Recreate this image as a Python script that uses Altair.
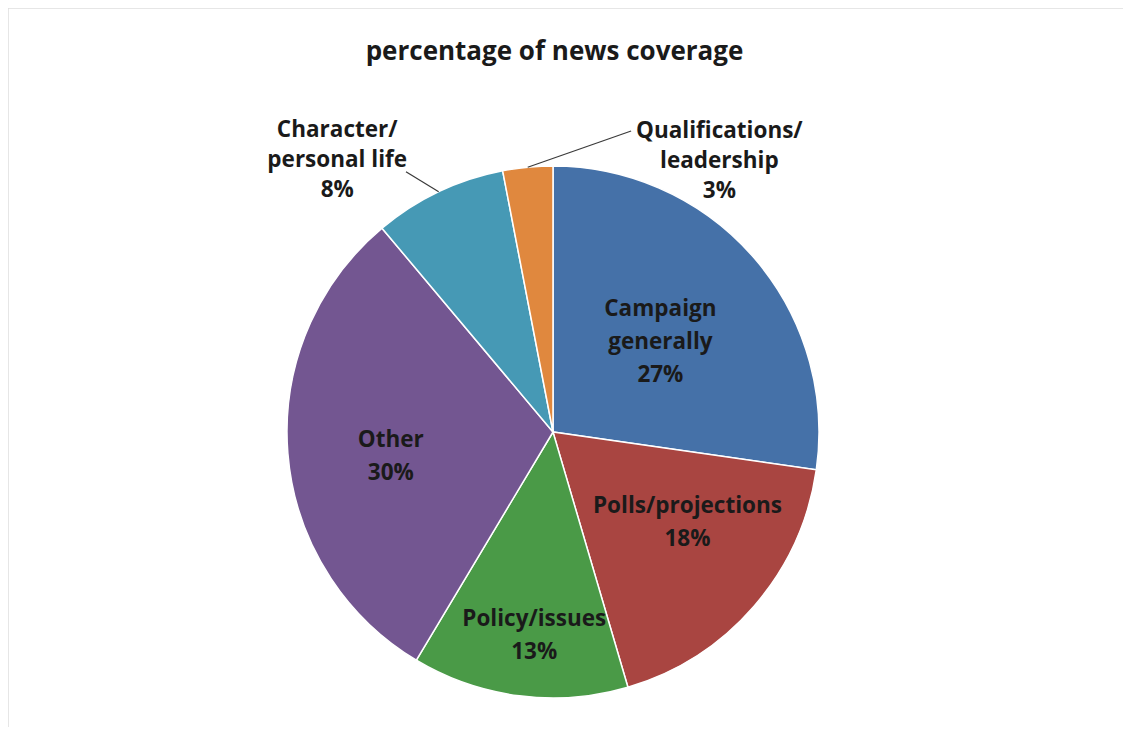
import altair as alt
import pandas as pd

# ---- data ----
categories = ["Campaign generally", "Polls/projections", "Policy/issues",
              "Other", "Character/personal life", "Qualifications/leadership"]
shares = [27, 18, 13, 30, 8, 3]
label_text = ["Campaign\ngenerally\n27%", "Polls/projections\n18%", "Policy/issues\n13%",
              "Other\n30%", "Character/\npersonal life\n8%", "Qualifications/\nleadership\n3%"]
colors = ["#4571A8", "#A94541", "#4A9A47", "#735691", "#4699B5", "#E0883E"]

# ---- label layout (Excel "best fit" placement): radius and turn from slice middle ----
label_radius = [140, 162, 204, 164, 347, 318]
label_turn = [1, -7, -2, -4, -13, 37]
has_leader = [False, False, False, False, True, True]
leader_radius = [0, 0, 0, 0, 299, 311]
leader_turn = [0, 0, 0, 0, -4, 20]

W, H = 1115, 719
CX, CY = 545, 424
R = 266
FONT = "Open Sans"
FS = 22.5
LH_IN, LH_OUT = 33, 30

df = pd.DataFrame({
    "category": categories,
    "share": shares,
    "label": label_text,
    "idx": list(range(len(categories))),
    "lr": label_radius,
    "lt": label_turn,
    "leader": has_leader,
    "ldr": leader_radius,
    "ldt": leader_turn,
})

base = alt.Chart(df).transform_joinaggregate(
    total="sum(share)"
).transform_window(
    cum="sum(share)", sort=[alt.SortField("idx")], frame=[None, 0]
).transform_calculate(
    mid="(datum.cum - datum.share / 2) / datum.total * 2 * PI",
    nlines="split(datum.label, '\\n').length",
    lh=f"datum.leader ? {LH_OUT} : {LH_IN}",
).transform_calculate(
    lx=f"{CX} + datum.lr * sin(datum.mid + datum.lt * PI / 180)",
    ly=f"{CY} - datum.lr * cos(datum.mid + datum.lt * PI / 180) - (datum.nlines - 1) * datum.lh / 2",
    ax=f"{CX} + {R} * sin(datum.mid)",
    ay=f"{CY} - {R} * cos(datum.mid)",
    bx=f"{CX} + datum.ldr * sin(datum.mid + datum.ldt * PI / 180)",
    by=f"{CY} - datum.ldr * cos(datum.mid + datum.ldt * PI / 180)",
)

arcs = alt.Chart(df).mark_arc(outerRadius=R, stroke="white", strokeWidth=1.5).encode(
    theta=alt.Theta("share:Q", stack=True),
    order=alt.Order("idx:Q"),
    color=alt.Color("category:N", scale=alt.Scale(domain=categories, range=colors), legend=None),
    x=alt.value(CX),
    y=alt.value(CY),
)

leaders = base.transform_filter("datum.leader").mark_rule(color="#3a3a3a", strokeWidth=1.2).encode(
    x=alt.X("ax:Q", scale=None, axis=None),
    y=alt.Y("ay:Q", scale=None, axis=None),
    x2="bx:Q",
    y2="by:Q",
)

text_style = dict(font=FONT, fontWeight="bold", fontSize=FS, lineBreak="\n",
                  align="center", baseline="middle", color="#1a1a1a")

labels_in = base.transform_filter("!datum.leader").mark_text(lineHeight=LH_IN, **text_style).encode(
    x=alt.X("lx:Q", scale=None, axis=None),
    y=alt.Y("ly:Q", scale=None, axis=None),
    text="label:N",
)
labels_out = base.transform_filter("datum.leader").mark_text(lineHeight=LH_OUT, **text_style).encode(
    x=alt.X("lx:Q", scale=None, axis=None),
    y=alt.Y("ly:Q", scale=None, axis=None),
    text="label:N",
)

frame_df = pd.DataFrame({"k": [0]})
top_line = alt.Chart(frame_df).mark_rule(color="#dedede", strokeWidth=1.5).encode(
    x=alt.value(0), x2=alt.value(W), y=alt.value(0)
)
left_line = alt.Chart(frame_df).mark_rule(color="#dedede", strokeWidth=1.5).encode(
    x=alt.value(0), y=alt.value(0), y2=alt.value(H)
)

chart = alt.layer(top_line, left_line, arcs, leaders, labels_in, labels_out).properties(
    width=W, height=H,
    autosize=alt.AutoSizeParams(type="none"),
    padding=0,
    title=alt.TitleParams(
        "percentage of news coverage", font=FONT, fontWeight="bold", fontSize=26,
        color="#1a1a1a", anchor="middle", offset=-58, dx=-11,
    ),
).configure_view(stroke=None)

chart.save("out.html", embed_options={"renderer": "svg", "actions": False})
